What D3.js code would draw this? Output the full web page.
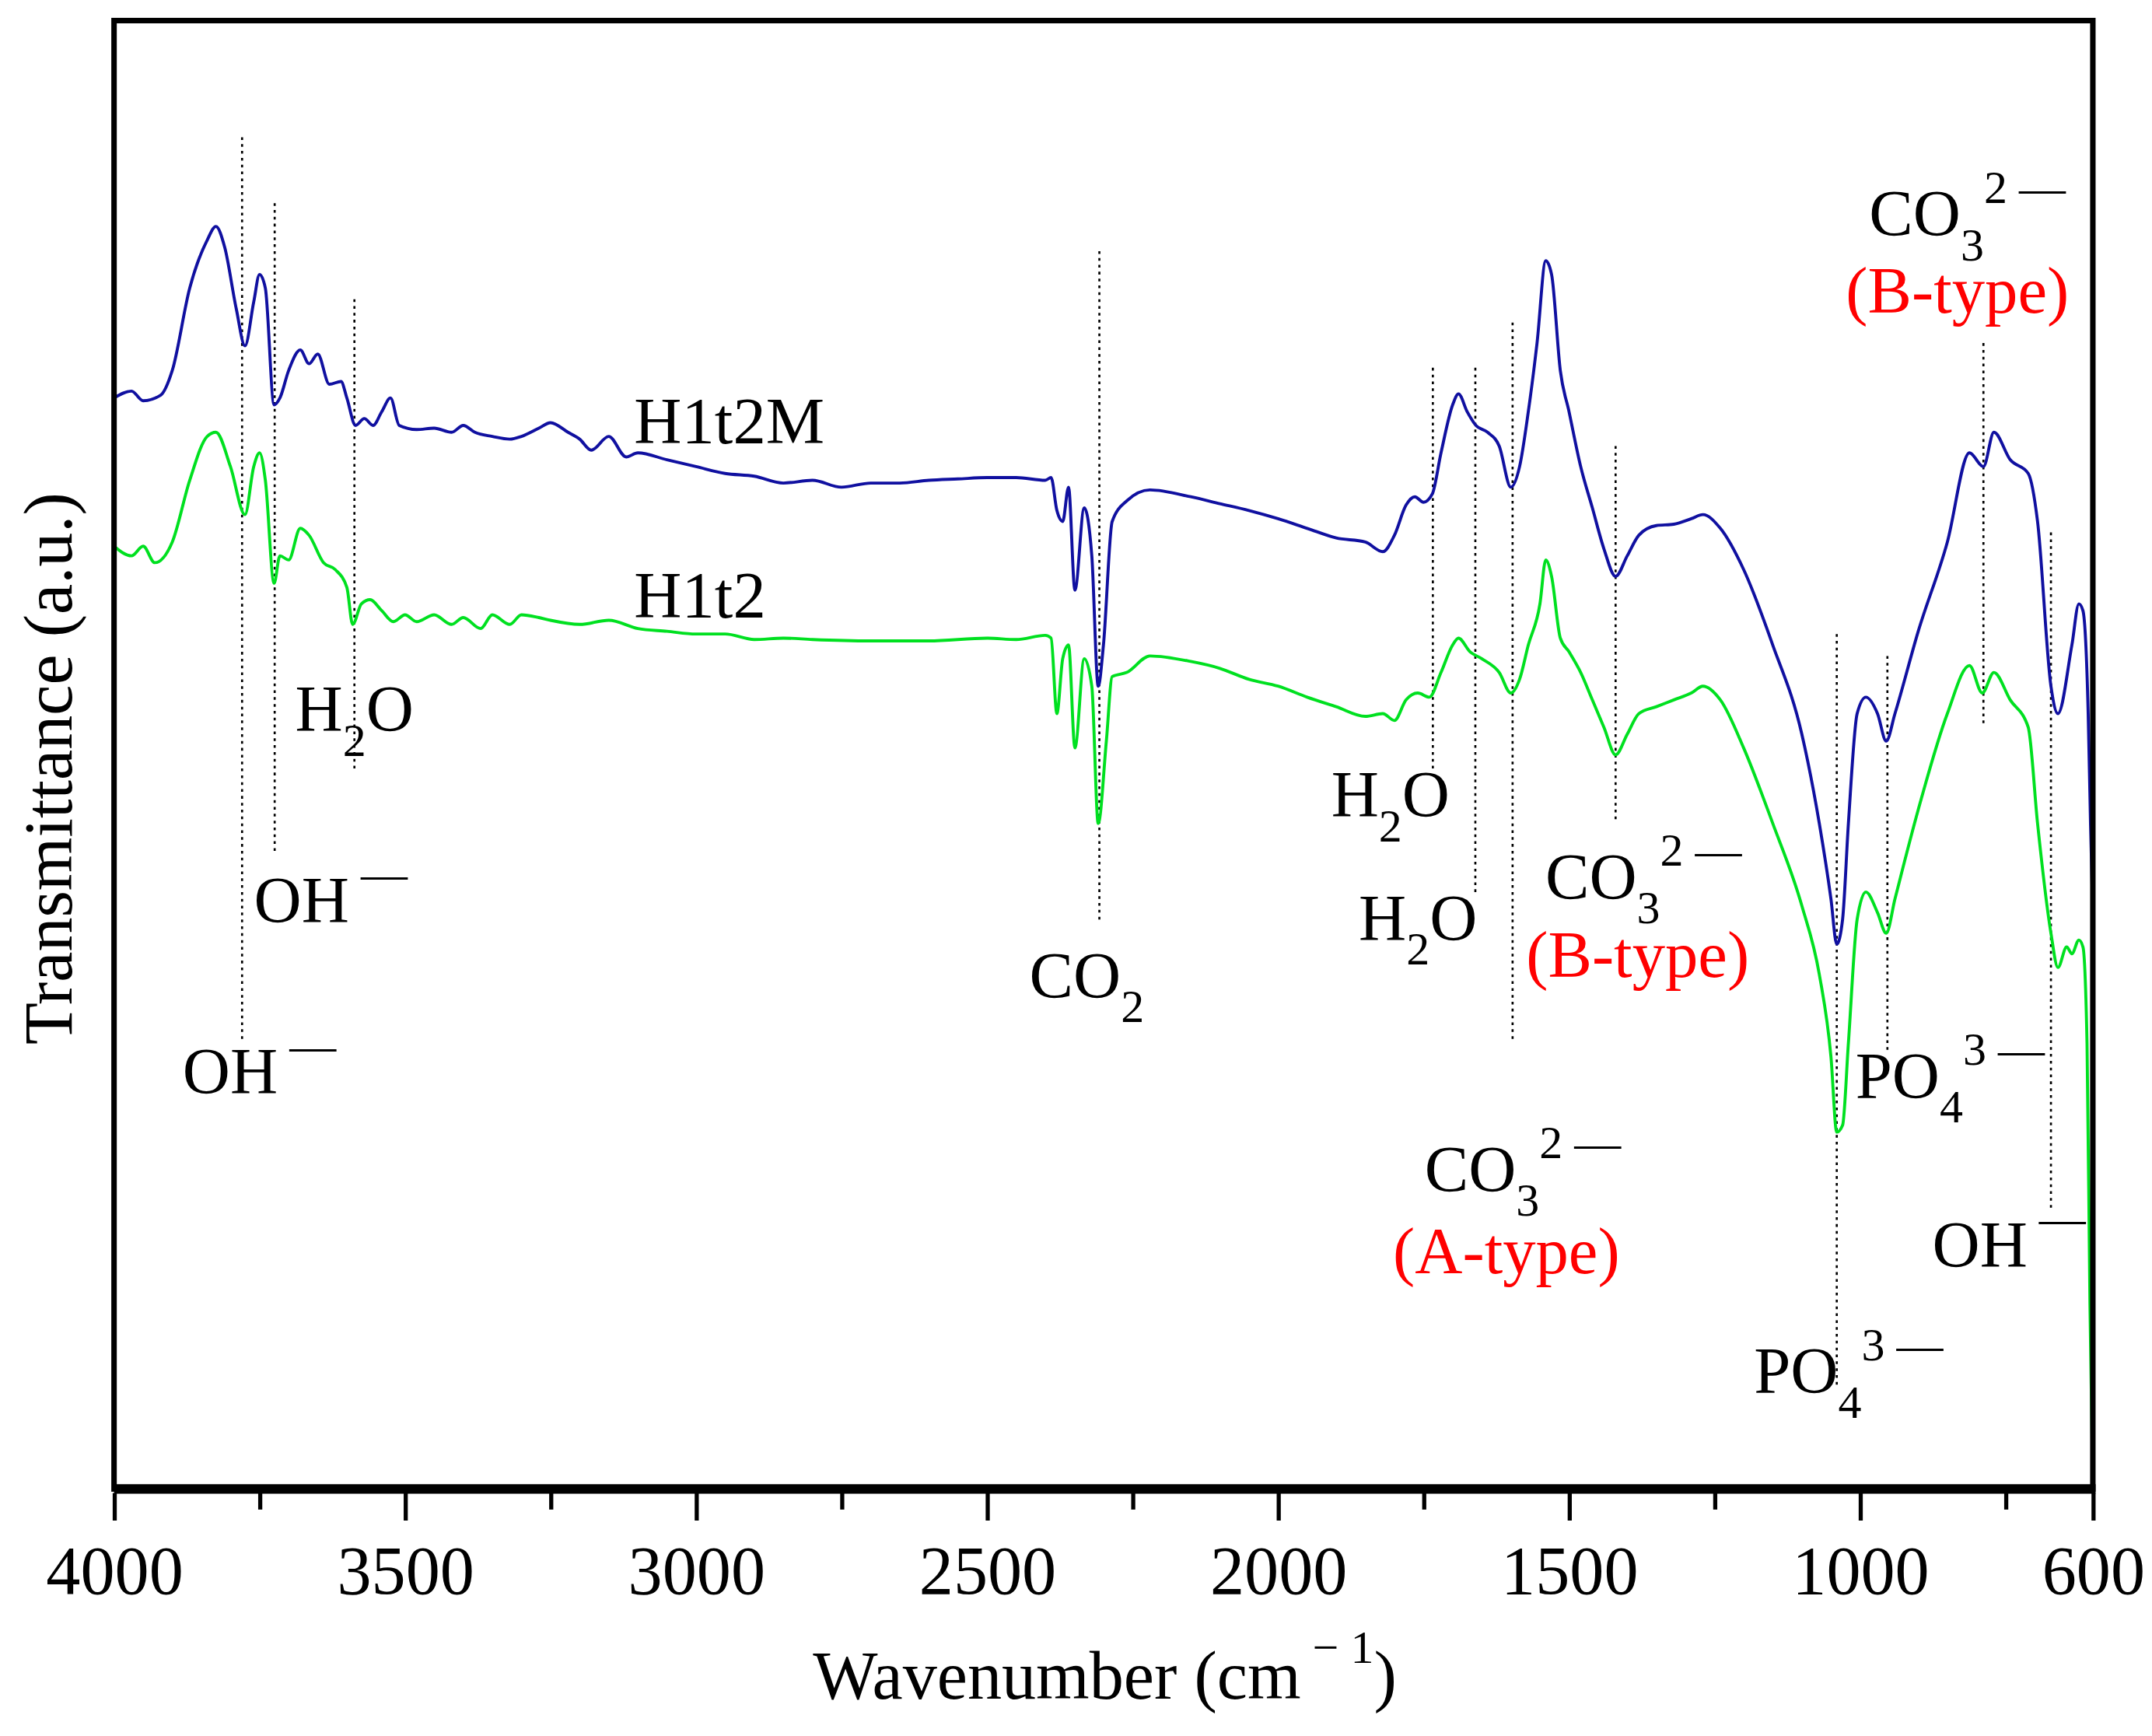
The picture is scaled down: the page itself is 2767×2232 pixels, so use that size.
<!DOCTYPE html>
<html><head><meta charset="utf-8">
<script src="https://cdn.jsdelivr.net/npm/d3@7"></script>
<style>body{margin:0;background:#fff}svg{display:block}</style>
</head><body>
<svg id="chart" width="2767" height="2232" viewBox="0 0 1568 1265"></svg>
<script>
// wavenumber (cm-1) and transmittance (a.u., offset spectra)
var blueWn = [4000,3970,3950,3920,3900,3870,3840,3825,3810,3790,3775,3760,3750,3740,3725,3715,3700,3680,3665,3650,3630,3610,3600,3585,3570,3555,3540,3525,3510,3480,3450,3420,3400,3380,3350,3320,3300,3270,3250,3220,3200,3180,3150,3120,3100,3050,3000,2950,2900,2850,2800,2750,2700,2650,2600,2550,2500,2450,2400,2390,2380,2370,2360,2349,2333,2320,2309,2300,2285,2260,2220,2150,2100,2050,2000,1950,1900,1850,1820,1800,1780,1765,1750,1735,1720,1700,1690,1675,1660,1640,1620,1600,1585,1570,1555,1540,1530,1515,1500,1480,1460,1440,1420,1400,1380,1350,1320,1290,1270,1240,1200,1150,1100,1070,1050,1040,1030,1020,1005,990,970,955,940,900,850,812,788,770,742,711,695,672,660,636,624,617,608,604,601];
var blueT = [795,800,793,797,815,875,910,920,905,860,833,865,885,875,790,795,815,830,820,827,805,807,795,775,780,775,785,795,775,772,773,770,775,770,767,765,767,773,777,770,765,757,767,752,755,750,745,740,738,733,735,730,733,733,735,736,737,737,735,737,713,705,730,655,715,680,585,615,705,720,728,723,718,713,707,700,693,690,683,695,717,723,719,725,755,790,798,785,775,770,760,730,745,785,835,895,885,815,785,745,715,685,665,680,695,702,703,707,710,700,670,615,550,485,430,397,415,485,565,577,565,545,565,625,690,755,745,770,750,740,705,585,565,615,645,640,565,485,435];
var greenWn = [4000,3970,3950,3930,3900,3870,3840,3825,3800,3775,3760,3750,3740,3725,3715,3700,3680,3665,3640,3620,3600,3590,3575,3560,3540,3520,3500,3480,3450,3420,3400,3370,3350,3320,3300,3270,3250,3200,3150,3100,3050,3000,2950,2900,2850,2800,2700,2600,2500,2450,2400,2390,2380,2370,2360,2349,2333,2320,2309,2295,2285,2260,2220,2150,2100,2050,2000,1950,1900,1850,1820,1800,1780,1760,1740,1720,1700,1690,1670,1650,1620,1600,1585,1570,1550,1540,1530,1515,1500,1480,1460,1440,1420,1400,1380,1350,1320,1290,1270,1240,1200,1150,1100,1070,1050,1040,1030,1020,1005,990,970,955,940,900,850,812,790,770,742,711,695,672,660,645,636,624,617,610,605,600];
var greenT = [687,680,687,675,690,735,767,770,745,710,745,755,735,660,680,677,700,695,675,670,657,630,645,648,640,632,637,632,637,630,635,627,637,630,637,635,633,630,633,627,625,623,623,619,620,619,618,618,620,619,622,620,565,605,615,540,605,585,485,545,592,595,607,603,598,590,585,577,570,563,565,560,575,580,577,595,615,620,610,605,595,580,590,615,645,677,665,620,610,595,575,555,535,550,565,570,575,580,585,575,540,485,425,375,315,260,265,325,415,435,420,405,430,495,565,600,580,595,575,555,485,405,380,395,390,400,395,325,135,0];
var xTicks = [4000,3500,3000,2500,2000,1500,1000,600];
var minorTicks = [3750,3250,2750,2250,1750,1250,750];
// assignment markers: wavenumber, dotted line top/bottom in a.u.
var guideWn  = [3780,3724,3587,2307,1734,1661,1597,1420,1040,953,788,672];
var guideTop = [985,937,867,902,817,817,850,760,623,607,835,697];
var guideBot = [325,465,525,415,525,435,325,485,75,317,555,205];
</script>
<script>
var svg = d3.select("#chart");
var L = 83, R = 1525, T = 15, B = 1085;
var x = d3.scaleLinear().domain([4000, 600]).range([L, R]);
var y = d3.scaleLinear().domain([0, 1070]).range([B, T]);
var font = "'Liberation Serif','Times New Roman',serif";

guideWn.forEach(function (w, i) {
  svg.append("line").attr("x1", x(w)).attr("x2", x(w))
    .attr("y1", y(guideTop[i])).attr("y2", y(guideBot[i]))
    .attr("stroke", "#000").attr("stroke-width", 1.5).attr("stroke-dasharray", "2,3");
});

var line = d3.line().x(function (d) { return x(d[0]); }).y(function (d) { return y(d[1]); }).curve(d3.curveMonotoneX);
svg.append("path").datum(d3.zip(greenWn, greenT)).attr("d", line)
  .attr("fill", "none").attr("stroke", "#00e020").attr("stroke-width", 2.2);
svg.append("path").datum(d3.zip(blueWn, blueT)).attr("d", line)
  .attr("fill", "none").attr("stroke", "#1010a0").attr("stroke-width", 2.2);

svg.append("rect").attr("x", L).attr("y", T).attr("width", R - L).attr("height", B - T)
  .attr("fill", "none").attr("stroke", "#000").attr("stroke-width", 4);
svg.append("line").attr("x1", L).attr("x2", R + 2).attr("y1", B).attr("y2", B)
  .attr("stroke", "#000").attr("stroke-width", 7);

var ax = svg.append("g").attr("transform", "translate(0," + (B + 3) + ")")
  .call(d3.axisBottom(x).tickValues(xTicks).tickSize(20).tickFormat(d3.format("d")));
ax.select(".domain").remove();
ax.selectAll("line").attr("stroke-width", 3);
ax.selectAll("text").attr("font-family", font).attr("font-size", 50).attr("fill", "#000").attr("y", 38).attr("dy", "0.71em");
svg.append("g").attr("transform", "translate(0," + (B + 3) + ")")
  .call(d3.axisBottom(x).tickValues(minorTicks).tickSize(12).tickFormat(""))
  .call(function (g) { g.select(".domain").remove(); g.selectAll("line").attr("stroke-width", 3); });

var xl = svg.append("text").attr("x", 805).attr("y", 1238).attr("text-anchor", "middle")
  .attr("font-family", font).attr("font-size", 50);
xl.append("tspan").text("Wavenumber (cm");
xl.append("tspan").attr("dy", -26).attr("font-size", 34).text(" \u2212 1");
xl.append("tspan").attr("dy", 26).text(")");
svg.append("text").attr("transform", "translate(52,560) rotate(-90)").attr("text-anchor", "middle")
  .attr("font-family", font).attr("font-size", 50).text("Transmittance (a.u.)");

function label(px, py, base, sub, sup, color, tail) {
  var t = svg.append("text").attr("x", px).attr("y", py).attr("font-family", font)
    .attr("font-size", 48).attr("fill", color || "#000");
  t.append("tspan").text(base);
  if (sub) t.append("tspan").attr("font-size", 34).attr("dy", 18).text(sub);
  if (tail) t.append("tspan").attr("dy", -18).text(tail);
  if (sup) t.append("tspan").attr("font-size", 34).attr("dy", sub ? -42 : -24).text(sup);
  return t;
}
label(462, 323, "H1t2M");
label(462, 450, "H1t2");
label(133, 797, "OH", null, " \u2014");
label(185, 672, "OH", null, " \u2014");
label(215, 533, "H", "2", null, null, "O");
label(750, 727, "CO", "2");
label(970, 595, "H", "2", null, null, "O");
label(990, 685, "H", "2", null, null, "O");
label(1126, 655, "CO", "3", "2 \u2014");
label(1112, 712, "(B-type)", null, null, "#ff0000");
label(1038, 868, "CO", "3", "2 \u2014");
label(1015, 928, "(A-type)", null, null, "#ff0000");
label(1352, 800, "PO", "4", "3 \u2014");
label(1408, 923, "OH", null, " \u2014");
label(1278, 1015, "PO", "4", "3 \u2014");
label(1362, 172, "CO", "3", "2 \u2014");
label(1345, 228, "(B-type)", null, null, "#ff0000");
</script>
</body></html>
